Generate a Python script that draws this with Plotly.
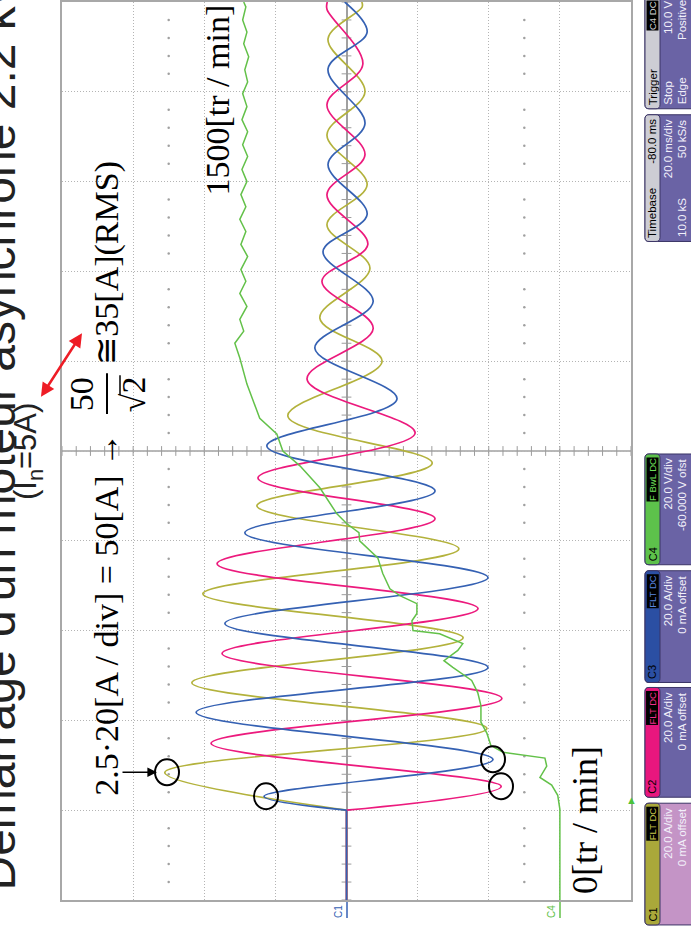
import numpy as np
import plotly.graph_objects as go

# ---------------- data ----------------
# time in ms (0 = trigger; 20 ms/div, delay -80 ms), currents in A, C4 in V
C1_T = [-20, 0, 8.4, 18.2, 28.4, 38.4, 48.2, 58.2, 67.8, 77.3, 87.8, 100.0, 109.6,
        120.7, 130.4, 139.3, 150.4, 160.0, 171.8, 178.9, 180]
C1_I = [0, 0, 51.1, -39.5, 43.5, -32.8, 40.4, -31.6, 25.2, -24.1, 16.5, -10.0, 7.5,
        -6.6, 5.5, -5.8, 5.5, -5.2, 5.2, -4.4, -4.3]
C2_T = [-20, 0, 5.3, 14.9, 24.9, 34.9, 44.9, 54.9, 64.9, 74.0, 84.0, 96.0, 107.3,
        117.8, 126.0, 137.1, 146.0, 157.1, 166.2, 178.4, 180]
C2_I = [0, 0, -43.5, 38.1, -43.7, 35.0, -37.0, 36.4, -24.9, 24.9, -19.3, 11.1, -7.5,
        6.9, -6.0, 5.5, -5.2, 5.5, -4.6, 5.5, 5.4]
C3_T = [-20, 0, 3.1, 11.3, 21.8, 31.8, 41.6, 51.8, 61.8, 71.1, 81.1, 91.6, 102.9,
        113.3, 124.4, 132.7, 143.8, 152.9, 165.1, 173.3, 180]
C3_I = [0, 0, 23.2, -41.2, 42.3, -39.8, 34.2, -39.8, 28.6, -24.9, 22.4, -14.2, 8.9,
        -7.5, 6.6, -5.8, 5.2, -5.2, 5.2, -5.8, 0.5]
C4_T = [-20, 0.2, 3.3, 5.6, 7.3, 9.8, 11.6, 12.2, 12.9, 14.4, 17.1, 19.6, 23.3, 26.2,
        28.9, 31.8, 33.3, 35.6, 37.1, 39.3, 40.0, 42.2, 43.8, 46.0, 47.8, 49.3, 52.7,
        56.2, 60.0, 61.8, 63.8, 66.0, 71.8, 76.7, 80.0, 83.8, 87.3, 94.9, 100.7, 104.0,
        106.7, 109.3, 112.2, 115.1, 117.8, 120.4, 123.3, 126.0, 128.9, 131.6, 134.4,
        137.1, 140.0, 142.7, 145.6, 148.2, 151.1, 153.8, 156.7, 159.6, 162.2, 164.9,
        167.8, 170.7, 173.3, 176.0, 178.9, 180]
C4_V = [0, 0, 0.6, 2.3, 5.6, 3.7, 4.2, 9.3, 16.0, 19.4, 20.5, 22.2, 22.2, 23.1,
        24.8, 30.1, 32.6, 28.7, 27.3, 33.8, 41.3, 41.6, 40.2, 40.2, 45.0, 47.8, 49.8,
        51.2, 56.3, 56.5, 59.9, 62.7, 67.5, 73.1, 77.9, 79.6, 84.4, 88.0, 90.0, 91.4,
        88.9, 90.0, 88.0, 90.0, 88.3, 89.7, 87.8, 89.7, 88.3, 90.0, 88.3,
        89.7, 88.0, 89.4, 87.8, 89.2, 87.8, 89.4, 88.0, 89.2, 87.8, 88.6,
        87.5, 88.9, 88.0, 89.2, 88.3, 88.9]

YEL, PINK, BLUE, GRN = "#b3b23c", "#ec1a7d", "#3561b3", "#63c149"

# ---------------- geometry ----------------
W, H = 691, 928
L, R, T, B = 62, 60, 0, 28
PW, PH = W - L - R, H - T - B


def px(x):
    return (x - L) / PW


def py(y):
    return (H - B - y) / PH


fig = go.Figure()

# graticule decorations: center-line tick marks and dot columns
tt = np.arange(-20, 180.01, 4)
ti = np.arange(-80, 80.01, 4)
fig.add_trace(go.Scatter(x=np.zeros_like(tt), y=tt, mode="markers", hoverinfo="skip",
                         marker=dict(symbol="line-ew", size=7, line=dict(color="#9c9c9c", width=1))))
fig.add_trace(go.Scatter(x=ti, y=np.full_like(ti, 80.0), mode="markers", hoverinfo="skip",
                         marker=dict(symbol="line-ns", size=7, line=dict(color="#9c9c9c", width=1))))
dt = np.array([v for v in tt if abs(v % 20) > 1e-6])
for xv in (50, -50):
    fig.add_trace(go.Scatter(x=np.full_like(dt, xv), y=dt, mode="markers", hoverinfo="skip",
                             marker=dict(symbol="circle", size=2.5, color="#a0a0a0")))

# current traces: flat part before the start (straight), then the oscillation (spline)
for t, v, c in ((C1_T, C1_I, YEL), (C2_T, C2_I, PINK), (C3_T, C3_I, BLUE)):
    fig.add_trace(go.Scatter(x=v[:2], y=t[:2], mode="lines", line=dict(color=c, width=1.7)))
    fig.add_trace(go.Scatter(x=v[1:], y=t[1:], mode="lines",
                             line=dict(color=c, width=1.7, shape="spline", smoothing=1.0)))
fig.add_trace(go.Scatter(x=C4_V, y=C4_T, mode="lines", xaxis="x2",
                         line=dict(color=GRN, width=1.5)))

shapes = []
# horizontal center line
shapes.append(dict(type="line", xref="paper", yref="y", x0=0, x1=1, y0=80, y1=80,
                   line=dict(color="#a0a0a0", width=1.5), layer="below"))

# circles
for cx, cy in ((167, 772), (266, 796), (493, 759), (501, 786)):
    shapes.append(dict(type="circle", xref="paper", yref="paper",
                       x0=px(cx - 12), x1=px(cx + 12), y0=py(cy + 13), y1=py(cy - 13),
                       line=dict(color="black", width=2)))
# fraction bar and radical overline
shapes.append(dict(type="line", xref="paper", yref="paper", x0=px(107), x1=px(107),
                   y0=py(413), y1=py(372), line=dict(color="black", width=2)))
shapes.append(dict(type="line", xref="paper", yref="paper", x0=px(120), x1=px(120),
                   y0=py(394), y1=py(374), line=dict(color="black", width=1.5)))


def rr_path(x0, y0, x1, y1, r):
    def P(x, y):
        return f"{px(x):.5f},{py(y):.5f}"
    return ("M " + P(x0 + r, y0) + " L " + P(x1 - r, y0) + " Q " + P(x1, y0) + " " + P(x1, y0 + r) +
            " L " + P(x1, y1 - r) + " Q " + P(x1, y1) + " " + P(x1 - r, y1) +
            " L " + P(x0 + r, y1) + " Q " + P(x0, y1) + " " + P(x0, y1 - r) +
            " L " + P(x0, y0 + r) + " Q " + P(x0, y0) + " " + P(x0 + r, y0) + " Z")


annotations = []


def ann(text, x, y, size, color="black", family="Liberation Sans", xa="center", ya="middle",
        angle=-90, bg=None):
    d = dict(text=text, x=px(x), y=py(y), xref="paper", yref="paper", showarrow=False,
             textangle=angle, xanchor=xa, yanchor=ya, borderpad=0,
             font=dict(size=size, color=color, family=family))
    if bg:
        d["bgcolor"] = bg
    annotations.append(d)


# ---------- info panels (right side) ----------
BODY, BODY1 = "#6a63a5", "#c494c6"
C4P, C3P, C2P, C1P = (453, 564), (570, 682), (687, 797), (803, 925)
panels = [
    ("Trigger", -6, 107, "#cdcdd4", BODY),
    ("Timebase", 113, 240, "#cdcdd4", BODY),
    ("C4", C4P[0], C4P[1], "#5dc24b", BODY),
    ("C3", C3P[0], C3P[1], "#2b4fa3", BODY),
    ("C2", C2P[0], C2P[1], "#e8167e", BODY),
    ("C1", C1P[0], C1P[1], "#aaa83a", BODY1),
]
for name, y0, y1, hc, bc in panels:
    shapes.append(dict(type="path", xref="paper", yref="paper", path=rr_path(645, y0, 702, y1, 4),
                       fillcolor=bc, line=dict(color="#3b3566", width=1)))
    shapes.append(dict(type="path", xref="paper", yref="paper", path=rr_path(645, y0, 660, y1, 4),
                       fillcolor=hc, line=dict(color="#3b3566", width=1)))

TXT = "#f2f0fa"
for name, lab, l1, l2, (y0, y1), col in (
        ("C1", "FLT DC", "20.0 A/div", "0 mA offset", C1P, "#c8c64a"),
        ("C2", "FLT DC", "20.0 A/div", "0 mA offset", C2P, "#f0308c"),
        ("C3", "FLT DC", "20.0 A/div", "0 mA offset", C3P, "#5a86e0"),
        ("C4", "F BwL DC", "20.0 V/div", "-60.000 V ofst", C4P, "#6fe05a")):
    ann(name, 652.5, y1 - 3, 11, "black", ya="bottom")
    ann(lab, 652.5, y0 + 3, 9.5, col, ya="top", bg="black")
    ann(l1, 668, y0 + 4, 11.5, TXT, ya="top")
    ann(l2, 682, y0 + 4, 11.5, TXT, ya="top")

ann("Timebase", 652.5, 237, 11.5, "black", ya="bottom")
ann("-80.0 ms", 652.5, 116, 11.5, "black", ya="top")
ann("20.0 ms/div", 668, 117, 11.5, TXT, ya="top")
ann("10.0 kS", 682, 237, 11.5, TXT, ya="bottom")
ann("50 kS/s", 682, 117, 11.5, TXT, ya="top")
ann("Trigger", 652.5, 104, 11.5, "black", ya="bottom")
ann("C4 DC", 652.5, -2, 9.5, "#d0d0d0", ya="top", bg="black")
ann("Stop", 668, 104, 11.5, TXT, ya="bottom")
ann("10.0 V", 668, -3, 11.5, TXT, ya="top")
ann("Edge", 682, 104, 11.5, TXT, ya="bottom")
ann("Positive", 682, -3, 11.5, TXT, ya="top")

# trigger marker and channel ground markers
annotations.append(dict(text="▲", x=px(639), y=py(809), xref="paper", yref="paper",
                        showarrow=False, font=dict(size=11, color="#4cc23a")))
ann("C1", 339, 912, 10, BLUE)
ann("C4", 552, 912, 10, GRN)
shapes.append(dict(type="line", xref="paper", yref="paper", x0=px(347), x1=px(347),
                   y0=py(902), y1=py(918), line=dict(color=BLUE, width=1.5)))
shapes.append(dict(type="line", xref="paper", yref="paper", x0=px(560), x1=px(560),
                   y0=py(902), y1=py(918), line=dict(color=GRN, width=1.5)))

# ---------- overlay texts ----------
SER = "Liberation Serif"
ann("Démarrage d'un moteur asynchrone 2.2 kW", 26, 892, 48, "#222222", xa="right", ya="bottom")
ann("(I<sub>n</sub>=5A)", 28, 451, 31, "#222222")
ann("2.5·20[A / div] = 50[A] →", 107, 797, 34, "black", SER, ya="bottom")
ann("50", 81, 393, 34, "black", SER)
ann("√2", 133, 393, 34, "black", SER)
ann("≅35[A](RMS)", 107, 158, 34, "black", SER, ya="top")
ann("1500[tr / min]", 217, 2, 34, "black", SER, ya="top")
ann("0[tr / min]", 585, 895, 36, "black", SER, ya="bottom")

# arrows
annotations.append(dict(x=px(157), y=py(772), xref="paper", yref="paper", ax=-36, ay=0,
                        text="", showarrow=True, arrowhead=2, arrowsize=1.2, arrowwidth=1.6,
                        arrowcolor="black"))
annotations.append(dict(x=px(82), y=py(332), xref="paper", yref="paper", ax=-42, ay=65,
                        text="", showarrow=True, arrowhead=2, startarrowhead=2,
                        arrowside="end+start", arrowsize=1.1, startarrowsize=1.1,
                        arrowwidth=2.5, arrowcolor="#ee1c25"))

grid = dict(showgrid=True, gridcolor="#b4b4b4", griddash="1px,2px", gridwidth=1,
            showline=True, mirror=True, linecolor="#a8a8a8", linewidth=2,
            showticklabels=False, ticks="", fixedrange=True)
fig.update_layout(
    width=W, height=H, margin=dict(l=L, r=R, t=T, b=B),
    paper_bgcolor="white", plot_bgcolor="white", showlegend=False,
    xaxis=dict(range=[80, -80], tickvals=list(range(-80, 81, 20)), zeroline=True,
               zerolinecolor="#a0a0a0", zerolinewidth=1.5, **grid),
    xaxis2=dict(range=[140, -20], overlaying="x", visible=False),
    yaxis=dict(range=[-20, 180], tickvals=list(range(-20, 181, 20)), zeroline=False, **grid),
    shapes=shapes, annotations=annotations,
)
fig.write_html("out.html")
